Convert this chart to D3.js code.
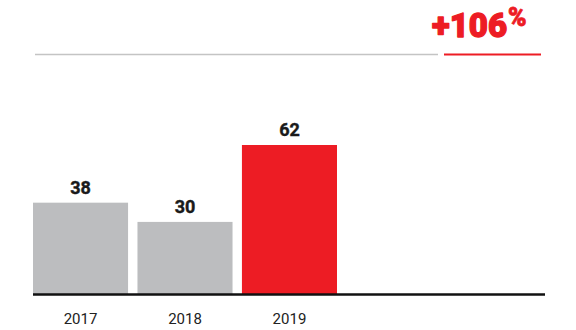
<!DOCTYPE html>
<html><head><meta charset="utf-8">
<script src="https://cdn.jsdelivr.net/npm/d3@7"></script>
<style>body{margin:0;background:#fff}svg{display:block}</style>
</head><body>
<script>
const years = ["2017", "2018", "2019"];
const values = [38, 30, 62];
const highlight = ["2019"];
const growthLabel = "+106";
const growthUnit = "%";

const W = 576, H = 330;
const svg = d3.select("body").append("svg").attr("width", W).attr("height", H);
const font = "Roboto, 'Liberation Sans', sans-serif";

const x = d3.scaleBand().domain(years).range([33, 337]).paddingInner(0.09).paddingOuter(0);
const y = d3.scaleLinear().domain([0, 62]).range([294, 145]);

// top rules
svg.append("line").attr("x1", 35).attr("x2", 438).attr("y1", 54.5).attr("y2", 54.5)
  .attr("stroke", "#c4c4c4").attr("stroke-width", 1.5);
svg.append("line").attr("x1", 444).attr("x2", 541).attr("y1", 54.5).attr("y2", 54.5)
  .attr("stroke", "#ed1c24").attr("stroke-width", 2);

// growth label
const g = svg.append("text").attr("x", 432).attr("y", 37)
  .attr("font-family", font).attr("font-weight", 900).attr("fill", "#ed1c24")
  .attr("stroke", "#ed1c24").attr("stroke-linejoin", "round");
g.append("tspan").attr("font-size", 33).attr("stroke-width", 1.3).text(growthLabel);
g.append("tspan").attr("font-size", 25).attr("stroke-width", 0.8).attr("dx", 1).attr("dy", -11).text(growthUnit);

// bars
svg.selectAll("rect.bar").data(years).join("rect").attr("class", "bar")
  .attr("x", d => x(d)).attr("width", x.bandwidth())
  .attr("y", (d, i) => y(values[i])).attr("height", (d, i) => y(0) - y(values[i]))
  .attr("fill", d => highlight.includes(d) ? "#ed1c24" : "#bcbdbf");

// value labels
svg.selectAll("text.val").data(years).join("text").attr("class", "val")
  .attr("x", d => x(d) + x.bandwidth() / 2).attr("y", (d, i) => y(values[i]) - 9)
  .attr("text-anchor", "middle").attr("font-family", font).attr("font-weight", 700)
  .attr("font-size", 18).attr("fill", "#1a1a1a")
  .attr("stroke", "#1a1a1a").attr("stroke-width", 0.4).text((d, i) => values[i]);

// baseline
svg.append("line").attr("x1", 33).attr("x2", 545).attr("y1", y(0) + 0.5).attr("y2", y(0) + 0.5)
  .attr("stroke", "#111").attr("stroke-width", 2.5);

// axis labels
const axis = d3.axisBottom(x).tickSize(0).tickPadding(19);
const ax = svg.append("g").attr("transform", `translate(0,${y(0)})`).call(axis);
ax.select(".domain").remove();
ax.selectAll("text").attr("font-family", font).attr("font-size", 15).attr("fill", "#222");
</script>
</body></html>
